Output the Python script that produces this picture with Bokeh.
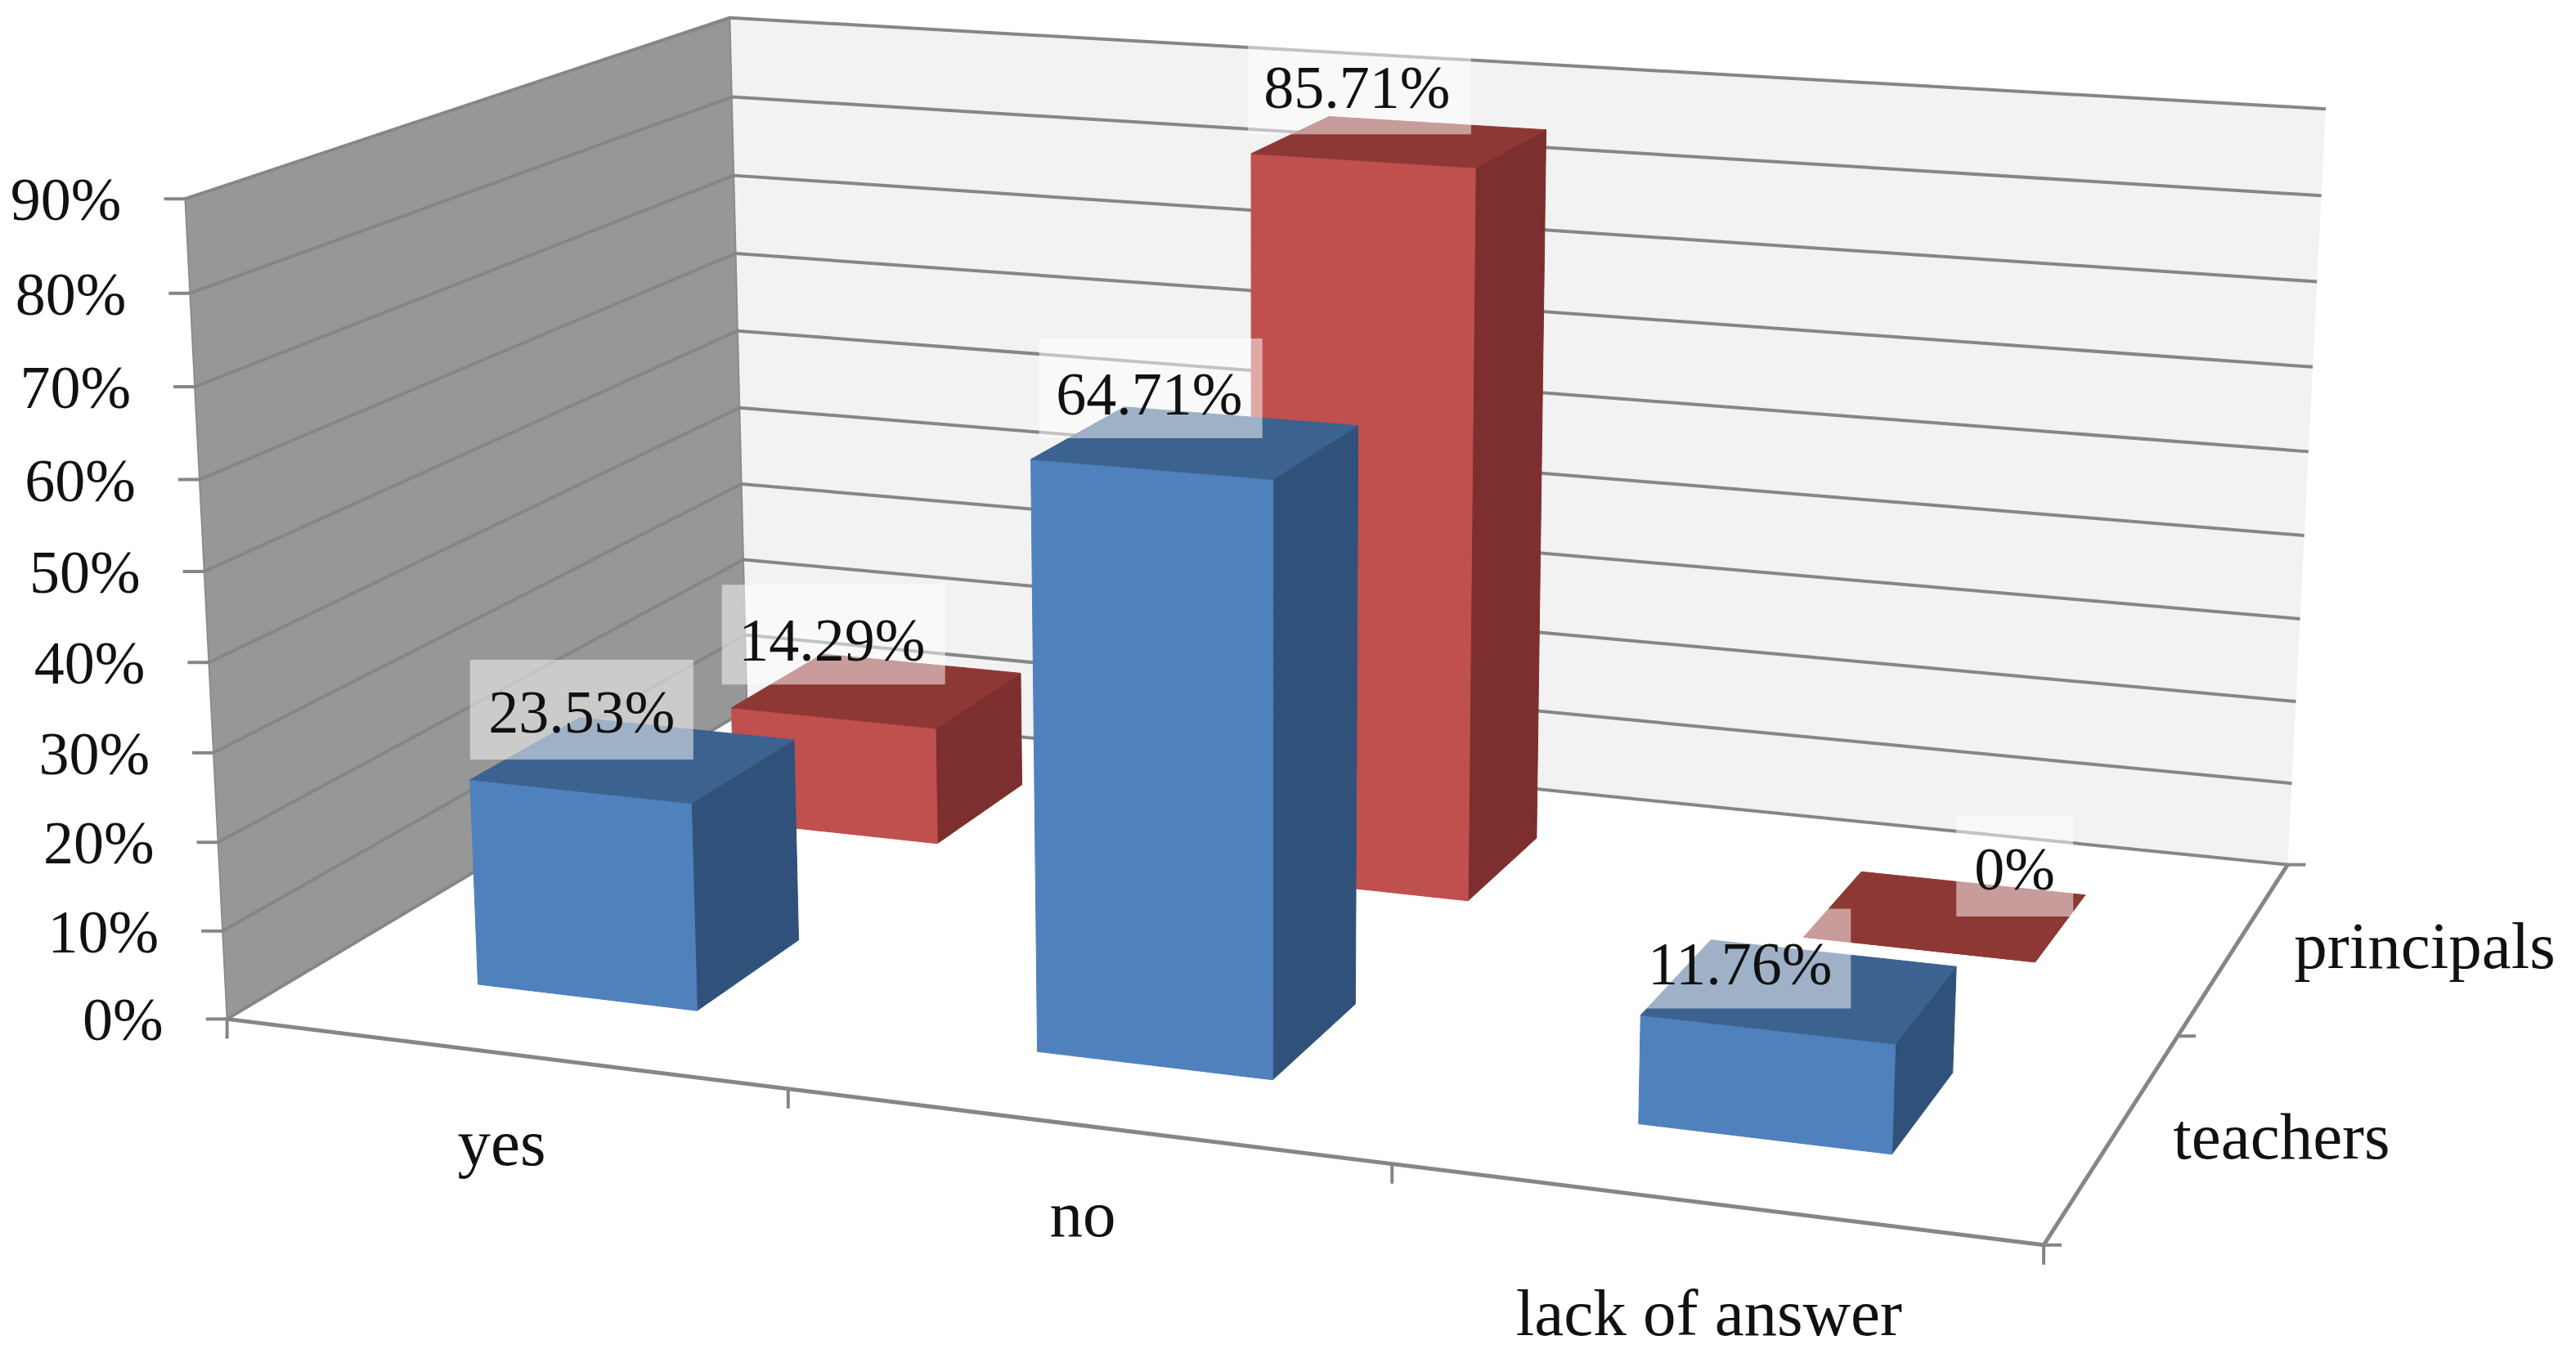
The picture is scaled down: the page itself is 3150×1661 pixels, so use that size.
import numpy as np
from bokeh.core.properties import value
from bokeh.embed import file_html
from bokeh.models import Range1d
from bokeh.plotting import figure
from bokeh.resources import INLINE

# ---- data -------------------------------------------------------------
categories = ["yes", "no", "lack of answer"]
series_names = ["teachers", "principals"]
teachers = [23.53, 64.71, 11.76]
principals = [14.29, 85.71, 0.0]
teachers_labels = ["23.53%", "64.71%", "11.76%"]
principals_labels = ["14.29%", "85.71%", "0%"]
value_ticks = [0, 10, 20, 30, 40, 50, 60, 70, 80, 90]
value_tick_labels = ["0%", "10%", "20%", "30%", "40%", "50%", "60%", "70%", "80%", "90%"]

# ---- 3-D camera: chart-space (category, series depth, percent) -> page pixels
camera_front_left = {90: (226, 242), 80: (231.5, 360), 70: (238.5, 473), 60: (244, 586.5),
                     50: (251, 699), 40: (256, 809), 30: (260, 919), 20: (265, 1028),
                     10: (271, 1137.5), 0: (278, 1246)}
camera_back_left = {90: (892, 20), 80: (894, 117.5), 70: (896.5, 213), 60: (899, 310),
                    50: (902, 405), 40: (904, 499), 30: (906, 592), 20: (908, 684.5)}
camera_back_right = {90: (2842, 132), 80: (2838, 239), 70: (2833.5, 344), 60: (2827, 448),
                     50: (2822, 552), 40: (2817, 656.5), 30: (2812, 757.5), 20: (2807, 858.6),
                     0: (2797, 1055)}
camera_floor = {(1, 0): (961, 1333), (2, 0): (1699.5, 1425), (3, 0): (2498, 1523), (3, 1): (2667, 1263)}


def fit_camera():
    pts = []
    pts += [((0, 0, v), xy) for v, xy in camera_front_left.items()]
    pts += [((0, 2, v), xy) for v, xy in camera_back_left.items()]
    pts += [((3, 2, v), xy) for v, xy in camera_back_right.items()]
    pts += [((c, d, 0), xy) for (c, d), xy in camera_floor.items()]
    rows = []
    for (c, d, v), (u, w) in pts:
        a = [c / 3, d / 2, v / 90, 1]
        u, w = u / 3150, w / 1661
        rows.append(a + [0, 0, 0, 0] + [-u * t for t in a])
        rows.append([0, 0, 0, 0] + a + [-w * t for t in a])
    return np.linalg.svd(np.array(rows))[2][-1].reshape(3, 4)


CAM = fit_camera()


def project(c, d, v):
    h = CAM @ np.array([c / 3, d / 2, v / 90, 1.0])
    return h[0] / h[2] * 3150, h[1] / h[2] * 1661


def poly(corners):
    pts = [project(*k) for k in corners]
    return [q[0] for q in pts], [q[1] for q in pts]


# ---- page -------------------------------------------------------------
W, H = 3134, 1656
p = figure(width=W, height=H, output_backend="svg", toolbar_location=None,
           x_range=Range1d(0, W), y_range=Range1d(H, 0), min_border=0,
           background_fill_color="white", border_fill_color="white", outline_line_color=None)
p.axis.visible = False
p.grid.visible = False

WALL_LINE = "#868686"
# walls
x, y = poly([(0, 2, 0), (3, 2, 0), (3, 2, 90), (0, 2, 90)])
p.patch(x, y, fill_color="#F2F2F2", line_color=None)
x, y = poly([(0, 0, 0), (0, 2, 0), (0, 2, 90), (0, 0, 90)])
p.patch(x, y, fill_color="#979797", line_color="#8C8C8C", line_width=2)
# grid lines
for v in value_ticks:
    x, y = poly([(0, 0, v), (0, 2, v), (3, 2, v)])
    p.line(x, y, line_color=WALL_LINE, line_width=4)

# axes and ticks
x, y = poly([(0, 0, 0), (3, 0, 0), (3, 2, 0)])
p.line(x, y, line_color=WALL_LINE, line_width=5)
for v in value_ticks:
    a = project(0, 0, v)
    p.line([a[0] - 26, a[0]], [a[1], a[1]], line_color=WALL_LINE, line_width=4)
for c in range(len(categories) + 1):
    a = project(c, 0, 0)
    p.line([a[0], a[0]], [a[1], a[1] + 24], line_color=WALL_LINE, line_width=4)
for d in range(len(series_names) + 1):
    a = project(3, d, 0)
    p.line([a[0], a[0] + 22], [a[1], a[1]], line_color=WALL_LINE, line_width=4)

# bars, back series first
BAR_HALF = 0.2
series_styles = [("#4F81BD", "#30527A", "#3C628F", 0.5, teachers),
                 ("#C0504D", "#7C2F2E", "#8E3836", 1.5, principals)]
for front, side, top, dc, vals in reversed(series_styles):
    for i, v in enumerate(vals):
        c0, c1 = i + 0.5 - BAR_HALF, i + 0.5 + BAR_HALF
        d0, d1 = dc - BAR_HALF, dc + BAR_HALF
        faces = [
            (side, [(c1, d0, 0), (c1, d1, 0), (c1, d1, v), (c1, d0, v)]),
            (front, [(c0, d0, 0), (c1, d0, 0), (c1, d0, v), (c0, d0, v)]),
            (top, [(c0, d0, v), (c1, d0, v), (c1, d1, v), (c0, d1, v)]),
        ]
        for col, corners in faces:
            x, y = poly(corners)
            p.patch(x, y, fill_color=col, line_color=col, line_width=1)

# data labels: box offset from the projected bar-top centre, then text offset from the box
box_offsets_teachers = [(-64, -61), (-56, -66), (-75, -39)]
box_offsets_principals = [(-54, -68), (-50, -70), (84, -60)]
text_shifts_teachers = [(0, -4), (-2, 0), (1, -1)]
text_shifts_principals = [(-2, 0), (-3, -3), (0, -4)]
label_box_w = {"0%": 143}
labels = [(0.5, teachers, teachers_labels, box_offsets_teachers, text_shifts_teachers),
          (1.5, principals, principals_labels, box_offsets_principals, text_shifts_principals)]
NUM_FONT = value("Liberation Serif")
TEXT_LIFT_74 = 24
TEXT_LIFT_80 = 26
for dc, vals, txts, offs, shifts in labels:
    for i, (v, t, o) in enumerate(zip(vals, txts, offs)):
        cx, cy = project(i + 0.5, dc, v)
        p.rect([cx + o[0]], [cy + o[1]], width=[label_box_w.get(t, 273)], height=[122],
               fill_color="white", fill_alpha=0.5, line_color=None)
for dc, vals, txts, offs, shifts in labels:
    for i, (v, t, o, s) in enumerate(zip(vals, txts, offs, shifts)):
        cx, cy = project(i + 0.5, dc, v)
        p.text([cx + o[0] + s[0]], [cy + o[1] + 31 - TEXT_LIFT_74 + s[1]], text=[t], text_font=NUM_FONT,
               text_font_size=value("74px"), text_color="#111111",
               text_align="center", text_baseline="alphabetic")

# value axis labels
for v, t in zip(value_ticks, value_tick_labels):
    a = project(0, 0, v)
    p.text([a[0] - 78], [a[1] + 25 - TEXT_LIFT_74], text=[t], text_font=NUM_FONT,
           text_font_size=value("74px"), text_color="#111111",
           text_align="right", text_baseline="alphabetic")

# category and series labels
category_label_offsets = [(-1, 136), (-2, 134), (-3, 160)]
for i, (t, o) in enumerate(zip(categories, category_label_offsets)):
    a = project(i + 0.5, 0, 0)
    p.text([a[0] + o[0]], [a[1] + o[1] - TEXT_LIFT_80], text=[t], text_font=NUM_FONT,
           text_font_size=value("81px"), text_color="#111111",
           text_align="center", text_baseline="alphabetic")
series_label_offsets = [(72, 28), (72, 26)]
for i, (t, o) in enumerate(zip(series_names, series_label_offsets)):
    a = project(3, i + 0.5, 0)
    p.text([a[0] + o[0]], [a[1] + o[1] - TEXT_LIFT_80], text=[t], text_font=NUM_FONT,
           text_font_size=value("81px"), text_color="#111111",
           text_align="left", text_baseline="alphabetic")

open("out.html", "w").write(file_html(p, INLINE))
